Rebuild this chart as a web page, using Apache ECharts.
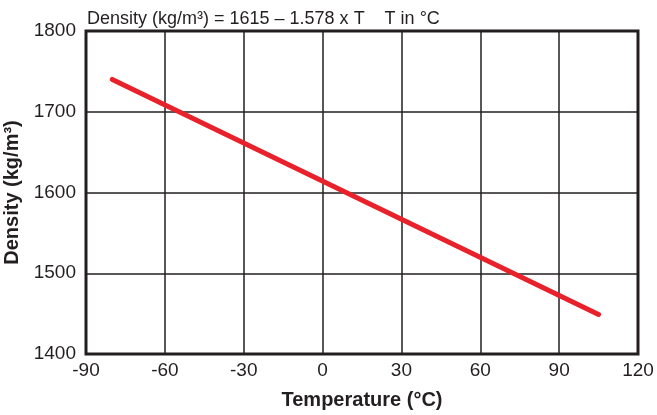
<!DOCTYPE html>
<html>
<head>
<meta charset="utf-8">
<script src="https://cdn.jsdelivr.net/npm/echarts@6/dist/echarts.min.js"></script>
<style>html,body{margin:0;padding:0;background:#fff}#c{width:657px;height:415px}</style>
</head>
<body>
<div id="c"></div>
<script>
const temperatures = [-80, 105];
const densities = [1740, 1449];
const xTicks = [-90, -60, -30, 0, 30, 60, 90, 120];
const yTicks = [1400, 1500, 1600, 1700, 1800];
const titleText = 'Density (kg/m³) = 1615 – 1.578 x T    T in °C';
const xName = 'Temperature (°C)';
const yName = 'Density (kg/m³)';

const chart = echarts.init(document.getElementById('c'), null, {renderer: 'canvas'});
const ink = '#231f20';
const font = '"Liberation Sans", Arial, Helvetica, sans-serif';
chart.setOption({
  animation: false,
  textStyle: {fontFamily: font},
  title: {
    text: titleText, left: 82, top: 5,
    textStyle: {fontSize: 18, fontWeight: 'normal', color: ink, fontFamily: font}
  },
  grid: {left: 86, right: 19, top: 31, bottom: 61, show: true, borderWidth: 3, borderColor: ink,
         backgroundColor: 'transparent', containLabel: false, outerBoundsMode: 'none'},
  xAxis: {
    type: 'value', min: xTicks[0], max: xTicks[xTicks.length-1], interval: 30,
    name: xName, nameLocation: 'middle', nameGap: 36,
    nameTextStyle: {fontSize: 20, fontWeight: 'bold', color: ink, fontFamily: font},
    axisLine: {show: false}, axisTick: {show: false},
    axisLabel: {fontSize: 19, color: ink, margin: 7, fontFamily: font, formatter: v => String(v)},
    splitLine: {show: true, lineStyle: {color: ink, width: 1.5}}
  },
  yAxis: {
    type: 'value', min: yTicks[0], max: yTicks[yTicks.length-1], interval: 100,
    name: yName, nameLocation: 'middle', nameGap: 58, nameRotate: 90,
    nameTextStyle: {fontSize: 20, fontWeight: 'bold', color: ink, fontFamily: font},
    axisLine: {show: false}, axisTick: {show: false},
    axisLabel: {fontSize: 19, color: ink, margin: 10, fontFamily: font, formatter: v => String(v)},
    splitLine: {show: true, lineStyle: {color: ink, width: 1.5}}
  },
  series: [{
    type: 'line', symbol: 'none',
    data: temperatures.map((t, i) => [t, densities[i]]),
    lineStyle: {color: '#e8212b', width: 5, cap: 'round'}
  }]
});
</script>
</body>
</html>
